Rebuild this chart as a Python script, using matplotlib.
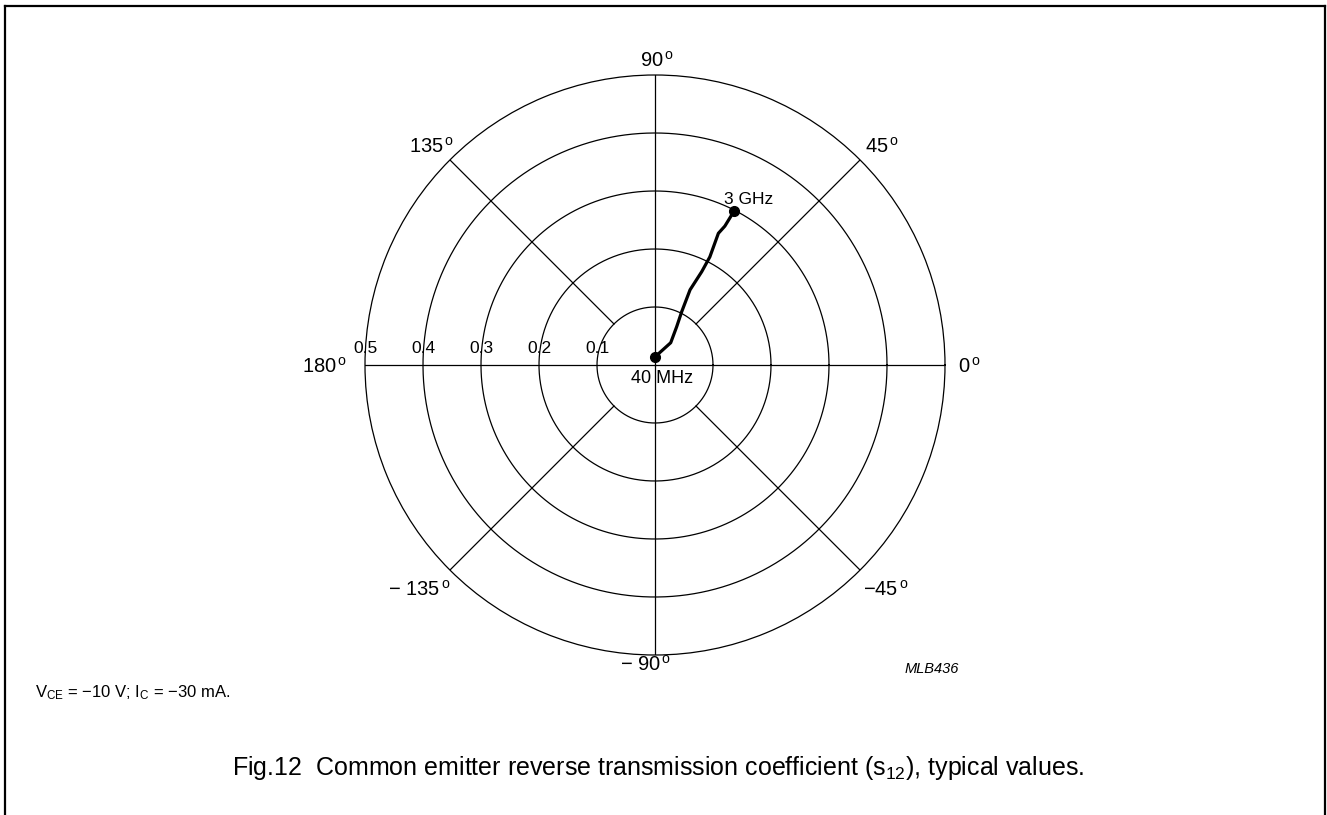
import numpy as np
import matplotlib
matplotlib.use("Agg")
import matplotlib.pyplot as plt
from matplotlib.lines import Line2D

plt.rcParams["font.family"] = ["Liberation Sans", "DejaVu Sans"]
plt.rcParams["mathtext.fontset"] = "custom"
plt.rcParams["mathtext.rm"] = "Liberation Sans"
plt.rcParams["mathtext.it"] = "Liberation Sans:italic"

# ==========================================
# Data
# ==========================================

# s12 magnitude and phase (deg), 40 MHz -> 3 GHz
s12_mag = [0.014, 0.047, 0.076, 0.103, 0.143, 0.180, 0.209, 0.252, 0.268, 0.299]
s12_ang = [90.0, 54.8, 60.5, 63.4, 65.0, 63.4, 63.1, 64.3, 63.3, 62.8]

ring_values = [0.1, 0.2, 0.3, 0.4, 0.5]
ring_labels = ["0.1", "0.2", "0.3", "0.4", "0.5"]
spoke_full = [0, 90, 180, 270]
spoke_part = [45, 135, 225, 315]

start_label = "40 MHz"
end_label = "3 GHz"

W, H = 1327, 815

# ==========================================
# Figure / polar axes
# ==========================================

fig = plt.figure(figsize=(W / 100, H / 100), dpi=100)
cx, cy, R = 655, 365, 290
ax = fig.add_axes([(cx - R) / W, (H - cy - R) / H, 2 * R / W, 2 * R / H],
                  projection="polar")
ax.set_theta_zero_location("E")
ax.set_rlim(0, 0.5)
ax.grid(False)
ax.set_xticks([])
ax.set_yticks([])
ax.spines["polar"].set_linewidth(0.9)
ax.spines["polar"].set_color("black")
ax.patch.set_alpha(0)

th = np.linspace(0, 2 * np.pi, 400)
for r in ring_values[:-1]:
    ax.plot(th, np.full_like(th, r), color="black", lw=0.9)

for a in spoke_full:
    ax.plot([np.radians(a)] * 2, [0, 0.5], color="black", lw=0.9)
for a in spoke_part:
    ax.plot([np.radians(a)] * 2, [0.1, 0.5], color="black", lw=0.9)

# radial scale labels along 180 deg
for r, lab in zip(ring_values, ring_labels):
    ax.annotate(lab, xy=(np.pi, r), xytext=(0, 12), textcoords="offset pixels",
                ha="center", va="baseline", fontsize=12.5)

# curve
theta = np.radians(s12_ang)
ax.plot(theta, s12_mag, color="black", lw=2.3, solid_capstyle="round")
ax.plot([theta[0], theta[-1]], [s12_mag[0], s12_mag[-1]], "o",
        color="black", ms=7)
ax.annotate(start_label, xy=(theta[0], s12_mag[0]), xytext=(7, -26),
            textcoords="offset pixels", ha="center", va="baseline", fontsize=13)
ax.annotate(end_label, xy=(theta[-1], s12_mag[-1]), xytext=(14, 7),
            textcoords="offset pixels", ha="center", va="baseline", fontsize=12.5)

# ==========================================
# Angle labels
# ==========================================

def ftext(x, y, s, **kw):
    fig.text(x / W, 1 - y / H, s, va="baseline", fontsize=14.5, **kw)

deg = r"$^{\,\mathrm{o}}$"
ftext(657, 67, "90" + deg, ha="center")
ftext(865, 153, "45" + deg, ha="left")
ftext(454, 153, "135" + deg, ha="right")
ftext(347, 373, "180" + deg, ha="right")
ftext(958, 373, "0" + deg, ha="left")
ftext(450, 596, "\u2212 135" + deg, ha="right")
ftext(863, 596, "\u221245" + deg, ha="left")
ftext(646, 671, "\u2212 90" + deg, ha="center")

fig.text(905 / W, 1 - 673 / H, "MLB436", fontsize=10.5, style="italic",
         va="baseline", ha="left")

fig.text(35 / W, 1 - 697 / H,
         "V$_{\\mathrm{CE}}$ = \u221210 V; I$_{\\mathrm{C}}$ = \u221230 mA.",
         fontsize=12, va="baseline", ha="left")

fig.text(658 / W, 1 - 775 / H,
         r"Fig.12  Common emitter reverse transmission coefficient (s$_{\mathrm{12}}$), typical values.",
         fontsize=18, va="baseline", ha="center")

# frame
lw_frame = 1.6
fig.add_artist(Line2D([5 / W, 5 / W], [0, 1 - 5.5 / H], color="black", lw=lw_frame))
fig.add_artist(Line2D([5 / W, 1324.5 / W], [1 - 5.5 / H, 1 - 5.5 / H], color="black", lw=lw_frame))
fig.add_artist(Line2D([1324.5 / W, 1324.5 / W], [0, 1 - 5.5 / H], color="black", lw=lw_frame))

fig.savefig("out.png", dpi=100)
